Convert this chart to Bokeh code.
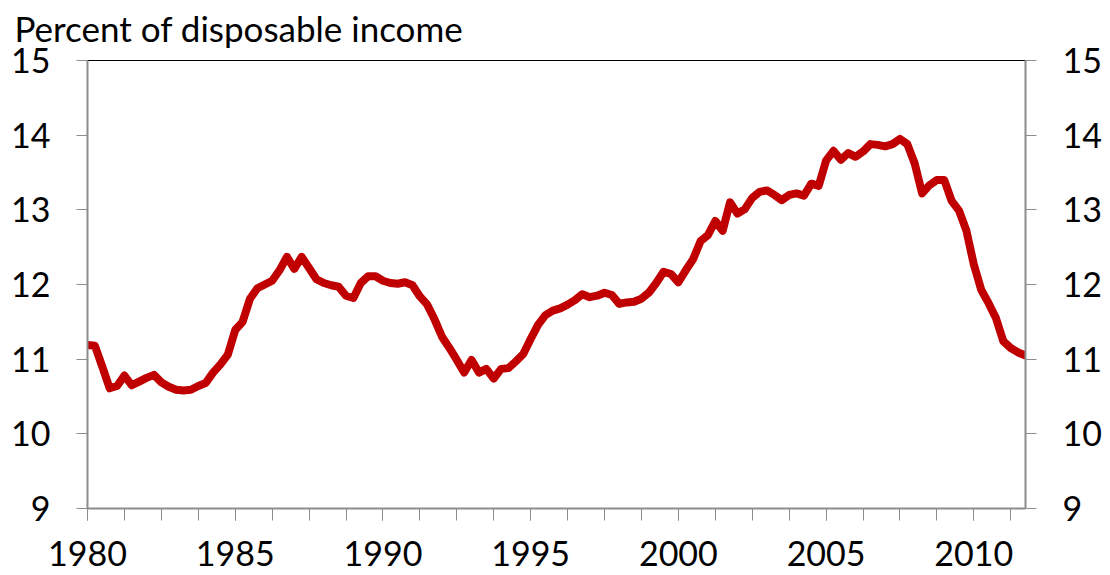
from bokeh.plotting import figure
from bokeh.models import LinearAxis, FixedTicker, Range1d, ColumnDataSource
from bokeh.embed import file_html
from bokeh.resources import INLINE

# Quarterly household debt service ratio, 1980Q1 .. 2011Q4 (percent of disposable income)
start_year = 1980
values = [
    11.19, 11.18, 10.90, 10.61, 10.64, 10.78, 10.65, 10.70, 10.75, 10.79,
    10.69, 10.63, 10.59, 10.58, 10.59, 10.64, 10.68, 10.82, 10.93, 11.06,
    11.39, 11.50, 11.81, 11.95, 12.00, 12.05, 12.19, 12.37, 12.21, 12.37,
    12.22, 12.07, 12.02, 11.99, 11.97, 11.85, 11.82, 12.02, 12.11, 12.11,
    12.05, 12.02, 12.01, 12.03, 11.99, 11.84, 11.73, 11.53, 11.30, 11.15,
    10.99, 10.82, 10.99, 10.82, 10.87, 10.74, 10.87, 10.88, 10.97, 11.07,
    11.27, 11.46, 11.59, 11.65, 11.68, 11.73, 11.79, 11.87, 11.83, 11.85,
    11.89, 11.86, 11.74, 11.76, 11.77, 11.81, 11.89, 12.02, 12.17, 12.14,
    12.03, 12.19, 12.34, 12.58, 12.66, 12.85, 12.72, 13.10, 12.95, 13.01,
    13.16, 13.24, 13.26, 13.20, 13.13, 13.20, 13.22, 13.19, 13.35, 13.32,
    13.66, 13.79, 13.67, 13.76, 13.71, 13.78, 13.88, 13.87, 13.85, 13.88,
    13.95, 13.88, 13.62, 13.22, 13.33, 13.40, 13.40, 13.12, 12.99, 12.72,
    12.27, 11.93, 11.75, 11.55, 11.24, 11.15, 11.09, 11.05,
]
years = [start_year + i / 4 for i in range(len(values))]
label_years = [1980, 1985, 1990, 1995, 2000, 2005, 2010]
minor_tick_years = [1980 + 1.25 * k for k in range(26)]
y_ticks = [9, 10, 11, 12, 13, 14, 15]
title_text = "Percent of disposable income"

FONT = "Lato"
FS = "34px"
GRAY = "#8c8c8c"

src = ColumnDataSource(dict(x=years, y=values))

p = figure(frame_width=938, frame_height=448, output_backend="svg",
           toolbar_location=None, x_range=Range1d(1980, 2011.75),
           y_range=Range1d(9, 15), min_border_left=87, min_border_right=10,
           min_border_top=69, min_border_bottom=67, background_fill_color="white",
           border_fill_color="white", styles={"margin-top": "-9px"})
p.outline_line_color = None
p.grid.visible = False

p.title.text = title_text
p.title.text_font = FONT
p.title.text_font_size = "35px"
p.title.text_font_style = "normal"
p.title.text_color = "black"
p.title.align = "left"
p.title.offset = -73
p.title.standoff = 24

p.line("x", "y", source=src, line_color="#C00000", line_width=8,
       line_join="round", line_cap="round")

# bottom axis
xa = p.xaxis[0]
xa.ticker = FixedTicker(ticks=label_years, minor_ticks=minor_tick_years)
xa.major_tick_out = 12
xa.major_tick_in = 0
xa.minor_tick_out = 12
xa.minor_tick_in = 0
xa.major_tick_line_color = GRAY
xa.minor_tick_line_color = GRAY
xa.axis_line_color = GRAY
xa.axis_line_width = 2
xa.major_label_standoff = 20
xa.major_label_text_line_height = 0.8
xa.major_label_text_font = FONT
xa.major_label_text_font_size = FS
xa.major_label_text_color = "black"

def style_y(ax):
    ax.ticker = FixedTicker(ticks=y_ticks)
    ax.major_tick_out = 11
    ax.major_tick_in = 0
    ax.minor_tick_out = 0
    ax.minor_tick_in = 0
    ax.major_tick_line_color = GRAY
    ax.axis_line_color = GRAY
    ax.axis_line_width = 2
    ax.major_label_standoff = 26
    ax.major_label_text_font = FONT
    ax.major_label_text_font_size = FS
    ax.major_label_text_color = "black"

style_y(p.yaxis[0])
ry = LinearAxis()
style_y(ry)
p.add_layout(ry, "right")

top = LinearAxis(ticker=FixedTicker(ticks=[]), major_label_text_font_size="0px",
                 axis_line_color="black", axis_line_width=1,
                 major_tick_out=0, minor_tick_out=0)
p.add_layout(top, "above")

open("out.html", "w").write(file_html(p, INLINE))
